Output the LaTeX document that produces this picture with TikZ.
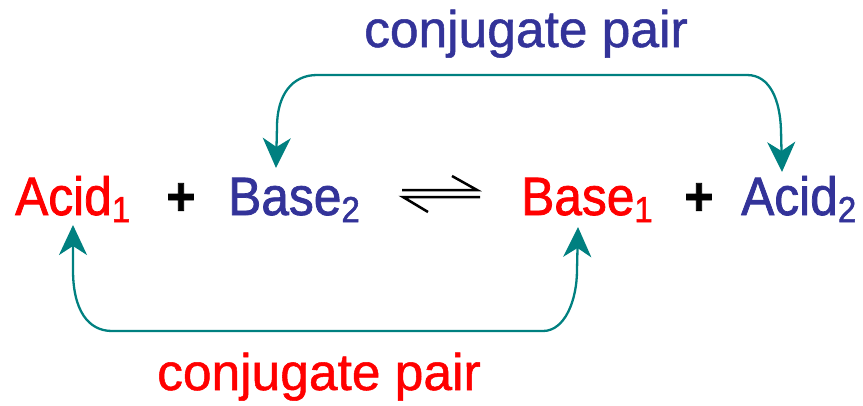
\documentclass[tikz,border=0pt]{standalone}
\usepackage{fontspec}
\setmainfont{Liberation Sans}
\newfontfamily\eqfont[FakeStretch=0.92, FakeBold=1.4]{Liberation Sans}
\newfontfamily\labelfont[FakeBold=1.0]{Liberation Sans}
\usetikzlibrary{arrows.meta}

\definecolor{acidred}{HTML}{FF0000}
\definecolor{baseblue}{HTML}{333399}
\definecolor{pairteal}{HTML}{008080}

% lowered index digit after a species name
\newcommand\idx[1]{\raisebox{-7pt}{\fontsize{36}{36}\selectfont #1}}

\tikzset{
  species/.style={inner sep=0pt, anchor=base west,
    font=\eqfont\fontsize{54}{54}\selectfont},
  plussign/.style={inner sep=0pt, anchor=base,
    font=\eqfont\fontsize{54}{54}\selectfont\bfseries},
  pairlabel/.style={inner sep=0pt, anchor=base west,
    font=\labelfont\fontsize{51.5}{51.5}\selectfont},
  pairarrow/.style={draw=pairteal, line width=2.3pt,
    {Stealth[length=30pt, width=28pt, inset=9pt]}-{Stealth[length=30pt, width=28pt, inset=9pt]}},
  eqline/.style={draw=black, line width=2.5pt}
}

\begin{document}
\begin{tikzpicture}[x=1pt, y=-1pt]
  \useasboundingbox (0,0) rectangle (863,405);

  % the reaction line
  \node[species, text=acidred]  (acidA) at (15,215)  {Acid\idx{1}};
  \node[plussign]               (plusA) at (181,215) {+};
  \node[species, text=baseblue] (baseB) at (228,215) {Base\idx{2}};
  \node[species, text=acidred]  (baseA) at (521,215) {Base\idx{1}};
  \node[plussign]               (plusB) at (699,215) {+};
  \node[species, text=baseblue] (acidB) at (741,215) {Acid\idx{2}};

  % equilibrium half-arrows
  \coordinate (eqTL) at (402,190);
  \coordinate (eqTR) at (477,190);
  \coordinate (eqBL) at (403,197);
  \coordinate (eqBR) at (480,197);
  \draw[eqline] (eqTL) -- (eqTR) -- (452,176);
  \draw[eqline] (eqBR) -- (eqBL) -- (428,212);

  % labels of the two pairs
  \node[pairlabel, text=baseblue] (topLabel) at (364,47)  {conjugate pair};
  \node[pairlabel, text=acidred]  (botLabel) at (157,390) {conjugate pair};

  % arrow ends above / below the species
  \coordinate (tipB2) at (276,168);
  \coordinate (tipA2) at (782,172);
  \coordinate (tipA1) at (73,225);
  \coordinate (tipB1) at (578,227);

  % Base2 <-> Acid2
  \draw[pairarrow] (tipB2) -- (277,127)
    .. controls (277,95) and (292,75) .. (317,75) -- (747,75)
    .. controls (770,75) and (780,100) .. (781,130) -- (tipA2);

  % Acid1 <-> Base1
  \draw[pairarrow] (tipA1) -- (73,270)
    .. controls (73,310) and (88,331) .. (112,331) -- (543,331)
    .. controls (565,331) and (577,300) .. (577,270) -- (tipB1);
\end{tikzpicture}
\end{document}
